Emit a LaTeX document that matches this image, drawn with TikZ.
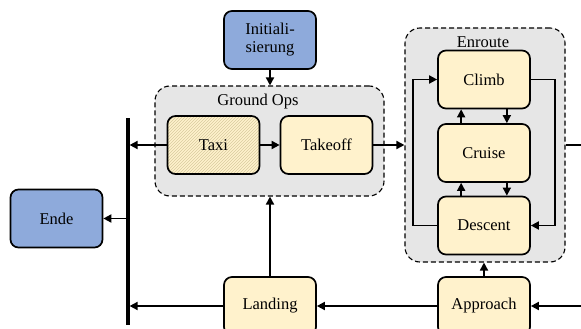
\documentclass[tikz,border=0pt]{standalone}
\usepackage{fontspec}
\setmainfont{Liberation Serif}
\usetikzlibrary{arrows.meta,patterns,calc}
\definecolor{boxblue}{HTML}{8EAADB}
\definecolor{boxyellow}{HTML}{FFF2CC}
\definecolor{groupgray}{HTML}{E6E6E6}
\definecolor{hatchcol}{HTML}{D8CB9E}
\tikzset{
  stbox/.style={draw=black, line width=1.7pt, rounded corners=8pt, fill=boxyellow,
    minimum width=92pt, minimum height=58pt, align=center, font=\fontsize{16.5}{18}\selectfont, inner sep=0pt},
  bluebox/.style={stbox, fill=boxblue},
  hatched/.style={stbox, preaction={fill=boxyellow}, pattern=north east lines, pattern color=hatchcol},
  group/.style={draw=black, line width=1.1pt, dash pattern=on 5pt off 3pt, rounded corners=15pt, fill=groupgray, inner sep=0pt},
  grouplabel/.style={font=\fontsize{16.5}{18}\selectfont, inner sep=0pt},
  arr/.style={line width=1.7pt, -{Triangle[length=8pt,width=8pt]}},
  ln/.style={line width=1.7pt},
}
\begin{document}
\begin{tikzpicture}[x=1pt,y=-1pt]
\useasboundingbox (0,0) rectangle (581,329);
\clip (0,0) rectangle (581,329);
% groups
\node[group, minimum width=229pt, minimum height=110pt] (ground) at (269.5,141) {};
\node[grouplabel] (groundlbl) at (258,102) {Ground Ops};
\node[group, minimum width=160pt, minimum height=234pt] (enroute) at (485,145) {};
\node[grouplabel] (enroutelbl) at (483,42) {Enroute};
% boxes
\node[bluebox] (init) at (270,40) {Initiali-\\sierung};
\node[hatched] (taxi) at (213.5,145) {Taxi};
\node[stbox] (takeoff) at (326.5,145) {Takeoff};
\node[stbox] (climb) at (484,79.5) {Climb};
\node[stbox] (cruise) at (484,153) {Cruise};
\node[stbox] (descent) at (484,225.5) {Descent};
\node[stbox] (approach) at (484,306) {Approach};
\node[stbox] (landing) at (270,306) {Landing};
\node[bluebox] (ende) at (56.5,218.5) {Ende};
% bar
\coordinate (bartop) at (128,118);
\coordinate (barbot) at (128,325);
\draw[line width=3.2pt] (bartop) -- (barbot);
\coordinate (outE) at (581,145);
\coordinate (inA) at (581,306);
% connectors
\draw[arr] (init.south) -- (init.south |- ground.north);
\draw[arr] (taxi.east) -- (takeoff.west);
\draw[arr] (taxi.west) -- ($(taxi.west -| bartop)+(1.6,0)$);
\draw[arr] (takeoff.east) -- (takeoff.east -| enroute.west);
\draw[ln] (enroute.east |- outE) -- (outE);
\draw[arr] (climb.east) -- ++(24,0) |- (descent.east);
\draw[arr] (descent.west) -- ++(-24,0) |- (climb.west);
\draw[arr] ($(cruise.north west)+(24,0)$) -- ($(climb.south west)+(24,0)$);
\draw[arr] ($(climb.south east)+(-24,0)$) -- ($(cruise.north east)+(-24,0)$);
\draw[arr] ($(descent.north west)+(24,0)$) -- ($(cruise.south west)+(24,0)$);
\draw[arr] ($(cruise.south east)+(-24,0)$) -- ($(descent.north east)+(-24,0)$);
\draw[arr] (approach.north) -- (approach.north |- enroute.south);
\draw[arr] (inA) -- (approach.east);
\draw[arr] (approach.west) -- (landing.east);
\draw[arr] (landing.north) -- (landing.north |- ground.south);
\draw[arr] (landing.west) -- ($(landing.west -| bartop)+(1.6,0)$);
\draw[arr] ($(ende.east -| bartop)$) -- (ende.east);
\end{tikzpicture}
\end{document}
